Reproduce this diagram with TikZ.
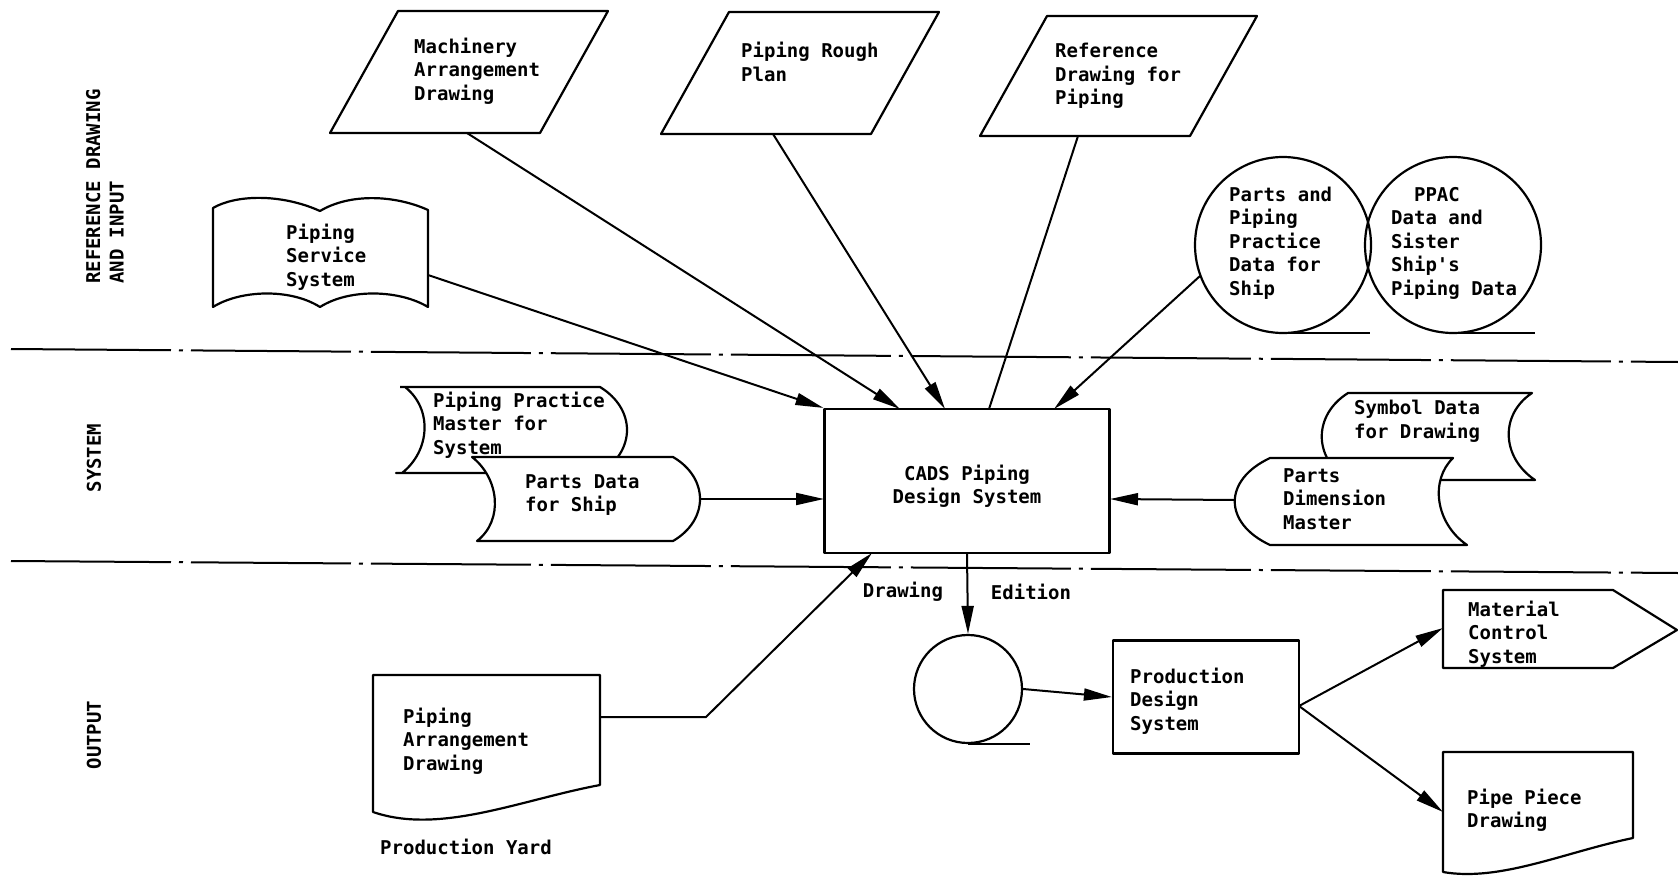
\documentclass[tikz,border=0pt]{standalone}
\usepackage{fontspec}
\setmonofont{DejaVu Sans Mono}
\usetikzlibrary{arrows.meta}

\begin{document}
\begin{tikzpicture}[x=1pt,y=-1pt,
  every node/.style={font=\ttfamily\bfseries\fontsize{19}{23.5}\selectfont, inner sep=0pt},
  outline/.style={line width=2.2pt, line join=round},
  link/.style={line width=2pt, -{Triangle[length=28pt,width=12pt]}},
  bare link/.style={line width=2pt},
  boundary/.style={line width=2pt, dash pattern=on 160pt off 8pt on 4pt off 8pt},
  txt/.style={anchor=west, align=left},
]
\fill[white] (0,0) rectangle (1678,880);
\useasboundingbox (0,0) rectangle (1678,880);

% ---- zone boundaries ----
\draw[boundary] (11,349) -- (1678,362);
\draw[boundary] (11,561) -- (1678,573);

% ---- zone titles ----
\node[rotate=90, anchor=west, align=left] (zone-ref) at (105,284) {REFERENCE DRAWING\\AND INPUT};
\node[rotate=90] (zone-sys) at (94,458) {SYSTEM};
\node[rotate=90] (zone-out) at (94,735) {OUTPUT};

% ---- reference drawings (parallelograms) ----
\draw[outline] (398,11) -- (608,11) -- (540,133) -- (330,133) -- cycle;
\node[txt] (mach) at (414,71) {Machinery\\Arrangement\\Drawing};
\coordinate (mach-out) at (467,133);

\draw[outline] (729,12) -- (939,12) -- (871,134) -- (661,134) -- cycle;
\node[txt] (rough) at (741,62) {Piping Rough\\Plan};
\coordinate (rough-out) at (773,134);

\draw[outline] (1047,16) -- (1257,16) -- (1190,136) -- (980,136) -- cycle;
\node[txt] (refdwg) at (1055,76) {Reference\\Drawing for\\Piping};
\coordinate (refdwg-out) at (1078,136);

% ---- piping service system (book shape) ----
\draw[outline] (213,208) .. controls (235,195) and (280,193) .. (320,211)
  .. controls (350,193) and (395,195) .. (428,210) -- (428,307)
  .. controls (400,290) and (350,288) .. (320,307)
  .. controls (290,288) and (240,290) .. (213,307) -- cycle;
\node[txt] (service) at (286,257) {Piping\\Service\\System};
\coordinate (service-out) at (428,275);

% ---- data files (tapes) ----
\draw[outline] (1283,333) -- (1370,333);
\draw[outline] (1453,333) -- (1535,333);
\node[draw, outline, circle, minimum size=176pt] (tape1) at (1283,245) {};
\node[draw, outline, circle, minimum size=176pt] (tape2) at (1453,245) {};
\node[txt] (tape1-text) at (1229,243) {Parts and\\Piping\\Practice\\Data for\\Ship};
\node[txt] (tape2-text) at (1391,243) {\phantom{PP}PPAC\\Data and\\Sister\\Ship's\\Piping Data};
\coordinate (tape1-out) at (1200,276);

% ---- stored data, left ----
\draw[outline, fill=white] (400,387) -- (600,387)
  .. controls (636,409) and (636,451) .. (600,473) -- (396,473) -- (402,473)
  .. controls (430,451) and (433,409) .. (405,387);
\node[txt] (practice) at (433,425) {Piping Practice\\Master for\\System};

\draw[outline, fill=white] (472,457) -- (673,457)
  .. controls (709,478) and (709,520) .. (673,541) -- (477,541)
  .. controls (504,520) and (499,478) .. (472,457) -- cycle;
\node[txt] (partsdata) at (525,495) {Parts Data\\for Ship};
\coordinate (partsdata-out) at (700,499);

% ---- stored data, right ----
\draw[outline, fill=white] (1348,393) -- (1532,393)
  .. controls (1499,415) and (1502,458) .. (1535,480) -- (1348,480)
  .. controls (1313,458) and (1313,415) .. (1348,393) -- cycle;
\node[txt] (symbol) at (1354,421) {Symbol Data\\for Drawing};

\draw[outline, fill=white] (1270,458) -- (1453,458)
  .. controls (1430,480) and (1435,523) .. (1467,545) -- (1270,545)
  .. controls (1223,523) and (1223,480) .. (1270,458) -- cycle;
\node[txt] (dimension) at (1283,499) {Parts\\Dimension\\Master};
\coordinate (dimension-out) at (1235,500);

% ---- central system ----
\node[draw, outline, minimum width=285pt, minimum height=144pt] (cads) at (967,481) {};
\node[align=center] (cads-text) at (967,486) {CADS Piping\\Design System};
\coordinate (cads-in-mach) at (900,409);
\coordinate (cads-in-rough) at (945,409);
\coordinate (cads-in-ref) at (989,409);
\coordinate (cads-in-tape) at (1054,409);
\coordinate (cads-in-left) at (824,499);
\coordinate (cads-in-right) at (1110,499);
\coordinate (cads-in-bottom) at (872,553);

\node (lbl-drawing) at (903,592) {Drawing};
\node (lbl-edition) at (1031,592) {Edition};

% ---- output ----
\node[draw, outline, circle, minimum size=108pt] (tape3) at (968,689) {};
\draw[outline] (tape3.south) -- ++(62,0);

\node[draw, outline, minimum width=186pt, minimum height=113pt] (prod) at (1206,697) {};
\node[txt] (prod-text) at (1130,701) {Production\\Design\\System};
\coordinate (prod-out) at (1299,706);

\draw[outline] (1443,590) -- (1613,590) -- (1677,630) -- (1613,668) -- (1443,668) -- cycle;
\node[txt] (material) at (1468,634) {Material\\Control\\System};
\coordinate (material-in) at (1443,628);

\draw[outline] (1443,752) -- (1633,752) -- (1633,838)
  .. controls (1565,852) and (1500,882) .. (1443,872) -- cycle;
\node[txt] (piece) at (1467,810) {Pipe Piece\\Drawing};
\coordinate (piece-in) at (1443,812);

\draw[outline] (373,675) -- (600,675) -- (600,785)
  .. controls (520,800) and (440,835) .. (373,812) -- cycle;
\node[txt] (arrangement) at (403,741) {Piping\\Arrangement\\Drawing};
\node[anchor=west] (yard) at (380,847) {Production Yard};
\coordinate (arrangement-out) at (600,717);
\coordinate (arrangement-bend) at (706,717);

% ---- connectors ----
\draw[link] (service-out) -- (cads.north west);
\draw[link] (mach-out) -- (cads-in-mach);
\draw[link] (rough-out) -- (cads-in-rough);
\draw[bare link] (refdwg-out) -- (cads-in-ref);
\draw[link] (tape1-out) -- (cads-in-tape);
\draw[link] (partsdata-out) -- (cads-in-left);
\draw[link] (dimension-out) -- (cads-in-right);
\draw[link] (arrangement-out) -- (arrangement-bend) -- (cads-in-bottom);
\draw[link] (cads.south) -- (tape3.north);
\draw[link] (tape3.east) -- (prod.west);
\draw[link] (prod-out) -- (material-in);
\draw[link] (prod-out) -- (piece-in);
\end{tikzpicture}
\end{document}
